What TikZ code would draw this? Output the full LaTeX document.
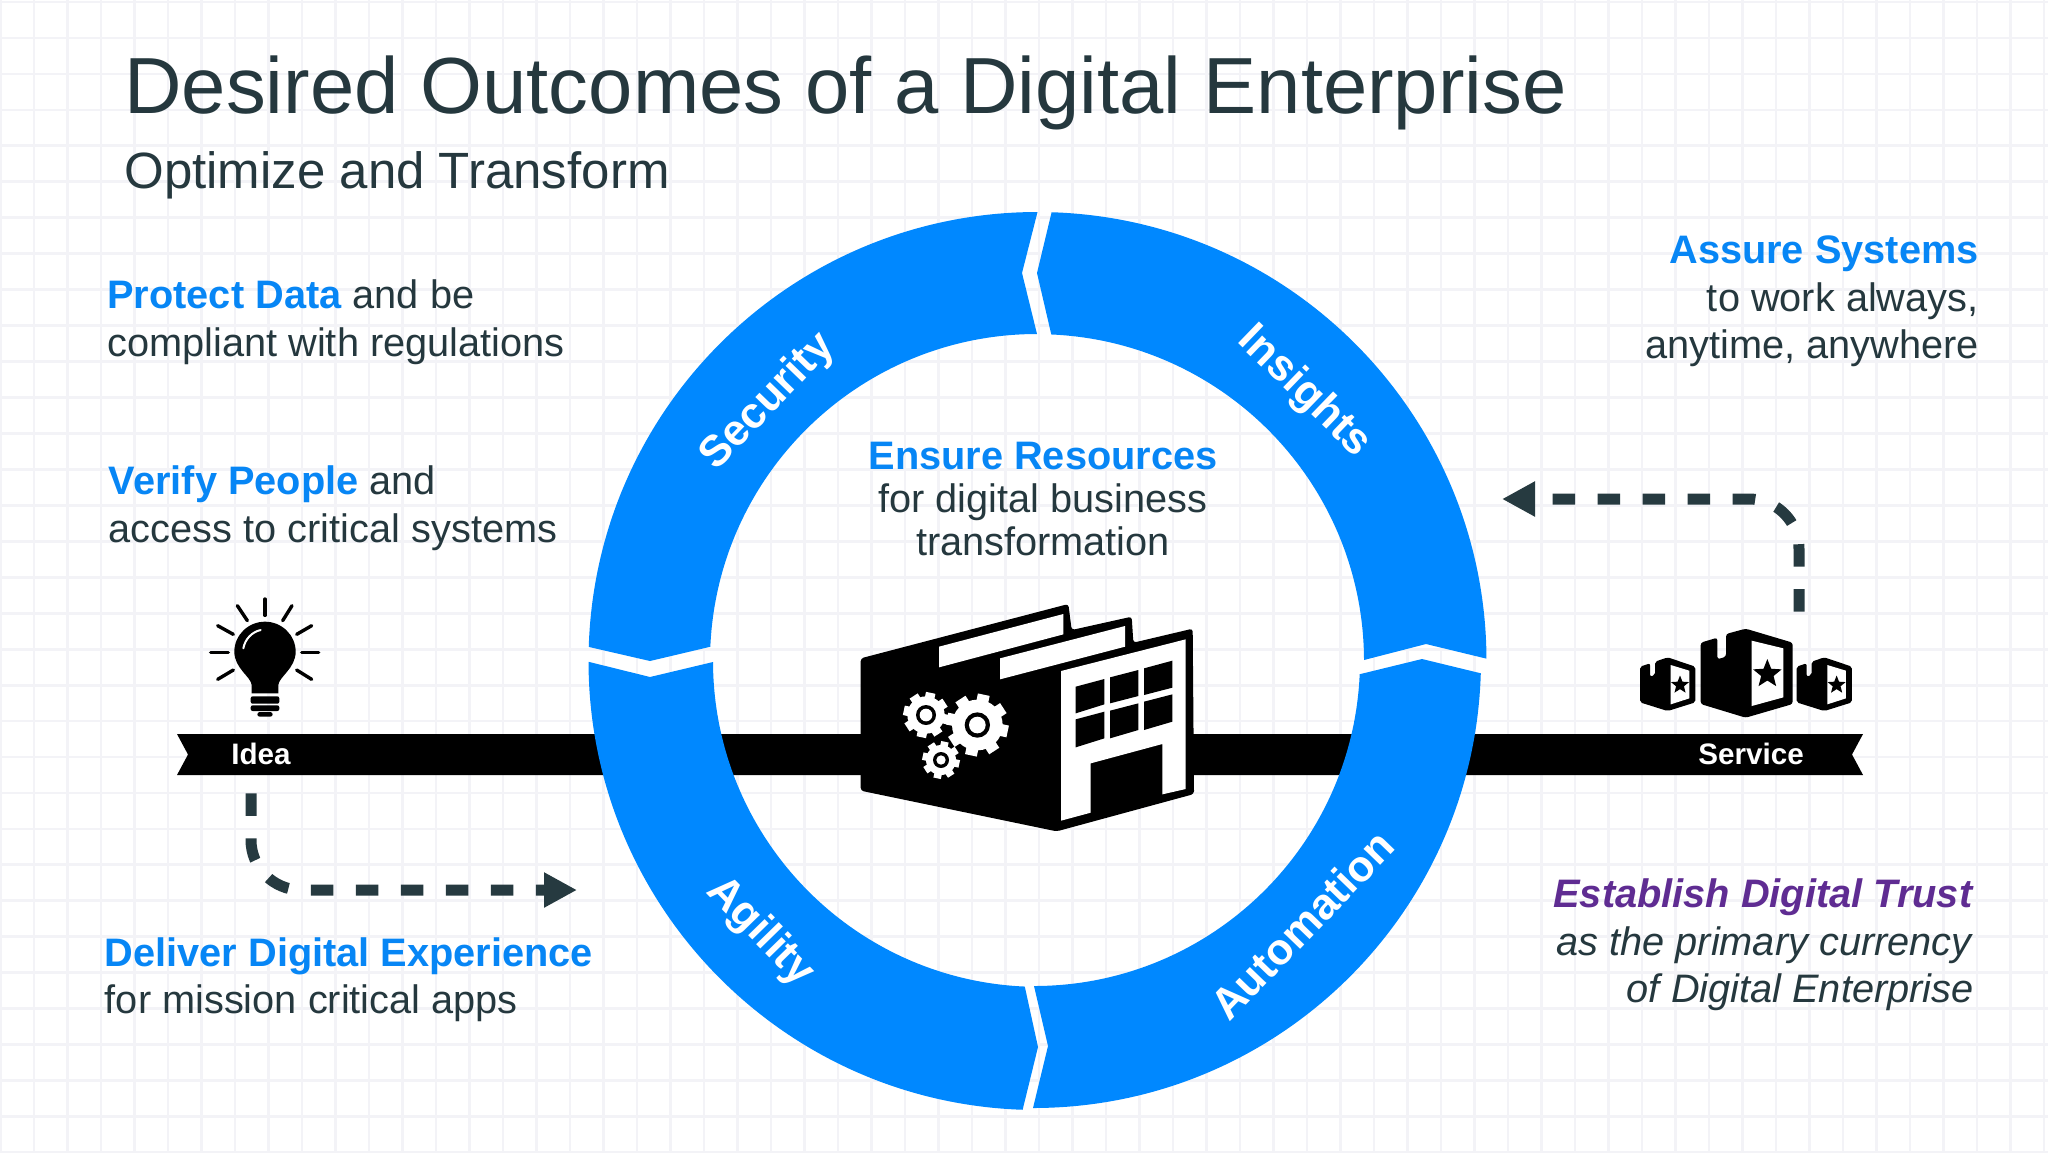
\documentclass[tikz,border=0pt]{standalone}
\usepackage{fontspec}
\setmainfont{Liberation Sans}
\setsansfont{Liberation Sans}
\usetikzlibrary{arrows.meta,shapes.geometric}
\definecolor{ringblue}{HTML}{0088FF}
\definecolor{textblue}{HTML}{0786F5}
\definecolor{inkdark}{HTML}{25383E}
\definecolor{arrowdark}{HTML}{263A40}
\definecolor{gridline}{HTML}{F3F3F7}
\definecolor{trustpurple}{HTML}{5F2C92}
\newcommand{\bodyfnt}{\fontsize{19.87}{24}\selectfont}
\newcommand{\ringfnt}{\fontsize{21.8}{24}\selectfont\bfseries}
\newcommand{\hl}[1]{\textcolor{textblue}{\textbf{#1}}}
\newcommand{\gearicon}[7]{% x y Rtooth Rbody ring hole toothwidth
  \fill[white] (#1,#2) circle[radius=#4];
  \foreach \a in {0,45,...,315}
    \draw[white,line width=#7pt] (#1,#2) ++(\a+12:#4-4) -- ++(\a+12:#3-#4+4);
  \fill[black] (#1,#2) circle[radius=#5];
  \fill[white] (#1,#2) circle[radius=#6];}
\tikzset{
  bodytext/.style={inner sep=0pt,font=\bodyfnt,text=inkdark},
  leftline/.style={bodytext,anchor=base west},
  rightline/.style={bodytext,anchor=base east},
  midline/.style={bodytext,anchor=base},
  bandlabel/.style={inner sep=0pt,anchor=base west,font=\fontsize{14.8}{16}\selectfont\bfseries,text=white},
  ringtext/.style={inner sep=0pt,font=\ringfnt,text=white},
  segment/.style={fill=ringblue,draw=none},
  dasharrow/.style={draw=arrowdark,line width=5.5pt,dash pattern=on 11.25pt off 11.25pt,
    -{Triangle[length=16.5pt,width=16.5pt,fill=arrowdark]}},
  ray/.style={line width=1.7pt,line cap=round,draw=black},
  boxstar/.style={star,star points=5,star point ratio=2.3,fill=black,inner sep=0pt},
}
\begin{document}
\begin{tikzpicture}[x=0.5pt,y=-0.5pt]
\useasboundingbox (0,0) rectangle (2048,1152);
\fill[white] (0,0) rectangle (2048,1152);
% grid
\foreach \k in {0,...,61}
  \draw[gridline,line width=1.4pt] ({0.5+33.5*\k},0) -- ({0.5+33.5*\k},1152);
\foreach \k in {-1,0,...,31}
  \draw[gridline,line width=1.4pt] (0,{38+35.95*\k}) -- (2048,{38+35.95*\k});

% black band
\fill[black] (177,734) -- (1863,734) -- (1852,754.5) -- (1863,775) -- (177,775) -- (188,754.5) -- cycle;

% ring segments
\coordinate (cA) at (1037.5,661);
\coordinate (cB) at (1033,660);
% Security
\path[segment] (cA) ++(181.8:449) arc[start angle=181.8,end angle=270,radius=449]
  -- (1022,273) -- (1037,334)
  arc[start angle=270,end angle=182.5,radius=327] -- (650,661) -- cycle;
% Insights
\path[segment] (cA) ++(271.8:449) arc[start angle=271.8,end angle=359.7,radius=449]
  -- (1426,644) -- (1364,660)
  arc[start angle=359.8,end angle=272.5,radius=327] -- (1037,273) -- cycle;
% Automation
\path[segment] (cB) ++(1.7:448) arc[start angle=1.7,end angle=90,radius=448]
  -- (1048,1046) -- (1034,986)
  arc[start angle=90,end angle=2.5,radius=326] -- (1422,659) -- cycle;
% Agility
\path[segment] (cA) ++(91.9:449) arc[start angle=91.9,end angle=179.9,radius=449]
  -- (650,677) -- (713,662)
  arc[start angle=179.8,end angle=92.5,radius=326] -- (1038,1047) -- cycle;

% ring labels
\node[ringtext,rotate=46] (security) at (768,402) {Security};
\node[ringtext,rotate=-44] (insights) at (1304,392) {Insights};
\node[ringtext,rotate=-45.7] (agility) at (760,932) {Agility};
\node[ringtext,rotate=46] (automation) at (1302,925) {Automation};

% factory icon
\begin{scope}[shift={(840,590)},x=0.16667pt,y=-0.16667pt]
  \fill[black,rounded corners=1.5pt] (62,205) -- (685,42) -- (695,120) -- (875,80) -- (880,158) -- (1058,116)
    -- (1062,612) -- (650,724) -- (62,602) -- cycle;
  \fill[white] (297,170) -- (670,72) -- (670,133) -- (297,232) -- cycle;
  \fill[white] (480,205) -- (855,108) -- (855,170) -- (480,268) -- cycle;
  \fill[white] (663,243) -- (1037,148) -- (1037,597) -- (967,613) -- (967,462) -- (752,520) -- (752,668) -- (663,692) -- cycle;
  \fill[black] (707,290) -- (793,267) -- (793,343) -- (707,370) -- cycle;
  \fill[black] (810,262) -- (895,240) -- (895,318) -- (810,340) -- cycle;
  \fill[black] (912,235) -- (997,212) -- (997,293) -- (912,315) -- cycle;
  \fill[black] (707,388) -- (793,365) -- (793,445) -- (707,472) -- cycle;
  \fill[black] (810,362) -- (895,340) -- (895,420) -- (810,445) -- cycle;
  \fill[black] (912,335) -- (997,313) -- (997,395) -- (912,420) -- cycle;
  \gearicon{258}{375}{68}{56}{30}{19}{4.8}
  \gearicon{412}{405}{93}{76}{38}{25}{6}
  \gearicon{303}{510}{56}{45}{24}{14}{3.8}
\end{scope}

% light bulb
\begin{scope}[shift={(180,580)},x=0.16667pt,y=-0.16667pt]
  \fill[black] (215,340) -- (215,315) .. controls (213,290) and (163,265) .. (163,215)
    .. controls (163,165) and (205,125) .. (255,125) .. controls (305,125) and (347,165) .. (347,215)
    .. controls (347,265) and (297,290) .. (295,315) -- (295,340) -- cycle;
  \draw[white,line width=1pt,line cap=round] (190,205) .. controls (195,178) and (215,156) .. (242,150);
  \fill[black,rounded corners=1pt] (212,349) rectangle (298,371);
  \fill[black,rounded corners=1pt] (212,376) rectangle (298,393);
  \fill[black,rounded corners=1.2pt] (232,396) rectangle (278,410);
  \draw[ray] (365,218) -- (416,218);
  \draw[ray] (350,270) -- (395,298);
  \draw[ray] (350,163) -- (395,137);
  \draw[ray] (308,122) -- (336,77);
  \draw[ray] (255,106) -- (255,57);
  \draw[ray] (202,122) -- (172,77);
  \draw[ray] (160,163) -- (113,137);
  \draw[ray] (145,218) -- (92,218);
  \draw[ray] (160,270) -- (113,298);
\end{scope}

% boxes
\begin{scope}[shift={(1600,470)},x=0.16667pt,y=-0.16667pt]
  \fill[black,rounded corners=1.3pt] (302,518) -- (352,503) -- (352,568) -- (378,560) -- (378,492) -- (437,476)
    -- (578,518) -- (578,702) -- (437,743) -- (302,702) -- cycle;
  \fill[white] (455,512) -- (550,535) -- (550,682) -- (455,708) -- cycle;
  \node[boxstar,minimum size=15pt] (bigstar) at (502,612) {};
  \fill[black,rounded corners=1pt] (120,590) -- (150,580) -- (150,620) -- (165,615) -- (165,575) -- (203,562)
    -- (286,590) -- (286,697) -- (203,723) -- (120,697) -- cycle;
  \fill[white] (212,585) -- (268,602) -- (268,685) -- (212,703) -- cycle;
  \node[boxstar,minimum size=9.5pt] (leftstar) at (240,645) {};
  \begin{scope}[xshift=78.3pt]
    \fill[black,rounded corners=1pt] (120,590) -- (150,580) -- (150,620) -- (165,615) -- (165,575) -- (203,562)
      -- (286,590) -- (286,697) -- (203,723) -- (120,697) -- cycle;
    \fill[white] (212,585) -- (268,602) -- (268,685) -- (212,703) -- cycle;
    \node[boxstar,minimum size=9.5pt] (rightstar) at (240,645) {};
  \end{scope}
\end{scope}

% dashed arrows
\coordinate (ideaStart) at (251,793.3);
\coordinate (ideaEnd) at (577,890);
\coordinate (serviceStart) at (1799,611.7);
\coordinate (serviceEnd) at (1502,499);
\draw[dasharrow] (ideaStart) -- (251,840) arc[start angle=180,end angle=90,radius=50] -- (ideaEnd);
\draw[dasharrow] (serviceStart) -- (1799,549) arc[start angle=0,end angle=-90,radius=50] -- (serviceEnd);

% band labels
\node[bandlabel] (idea) at (231,764) {Idea};
\node[bandlabel] (service) at (1698,764) {Service};

% title
\node[inner sep=0pt,anchor=base west,font=\fontsize{39.8}{44}\selectfont,text=inkdark] (title) at (124,113) {Desired Outcomes of a Digital Enterprise};
\node[inner sep=0pt,anchor=base west,font=\fontsize{25.5}{30}\selectfont,text=inkdark] (subtitle) at (124,188) {Optimize and Transform};

% left texts
\node[leftline] (p1) at (107,308) {\hl{Protect Data} and be};
\node[leftline] (p2) at (107,356) {compliant with regulations};
\node[leftline] (v1) at (108.5,494) {\hl{Verify People} and};
\node[leftline] (v2) at (108.5,542) {access to critical systems};
\node[leftline] (d1) at (104.5,966) {\hl{Deliver Digital Experience}};
\node[leftline] (d2) at (104.5,1013) {for mission critical apps};

% right texts
\node[rightline] (a1) at (1979,263) {\hl{Assure Systems}};
\node[rightline] (a2) at (1979,311) {to work always,};
\node[rightline] (a3) at (1979,358) {anytime, anywhere};
\node[rightline] (e1) at (1974,907) {\textcolor{trustpurple}{\textbf{\textit{Establish Digital Trust}}}};
\node[rightline] (e2) at (1974,955) {\textit{as the primary currency}};
\node[rightline] (e3) at (1974,1002) {\textit{of Digital Enterprise}};

% centre text
\node[midline] (c1) at (1043,469) {\hl{Ensure Resources}};
\node[midline] (c2) at (1043,512) {for digital business};
\node[midline] (c3) at (1043,555) {transformation};
\end{tikzpicture}
\end{document}
